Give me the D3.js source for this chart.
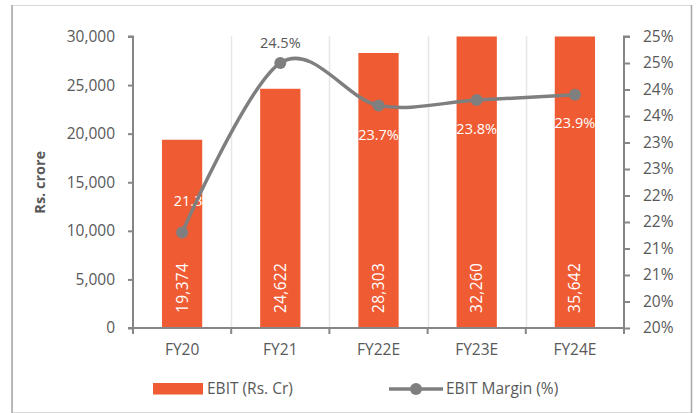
<!DOCTYPE html>
<html>
<head>
<meta charset="utf-8">
<script src="https://cdn.jsdelivr.net/npm/d3@7.9.0/dist/d3.min.js"></script>
<style>
  body { margin: 0; background: #fff; }
  svg { display: block; font-family: 'Open Sans', sans-serif; }
</style>
</head>
<body>
<svg width="696" height="413"></svg>
<script>
const years = ['FY20', 'FY21', 'FY22E', 'FY23E', 'FY24E'];
const ebit = [19374, 24622, 28303, 32260, 35642];
const margin = [21.3, 24.5, 23.7, 23.8, 23.9];
const leftTicks = [0, 5000, 10000, 15000, 20000, 25000, 30000];
const rightTicks = [19.5, 20, 20.5, 21, 21.5, 22, 22.5, 23, 23.5, 24, 24.5, 25];

const svg = d3.select('svg');
const plot = { left: 133, right: 624, top: 36.5, bottom: 328 };
const barColor = '#EF5B33';
const lineColor = '#7F7F7F';
const textColor = '#595959';
const axisColor = '#868686';

// outer frame
svg.append('rect')
    .attr('x', 12.5).attr('y', 5.5)
    .attr('width', 679).attr('height', 407)
    .attr('fill', 'none').attr('stroke', '#d9d9d9');
svg.append('line').attr('x1', 12).attr('x2', 12).attr('y1', 5).attr('y2', 413)
    .attr('stroke', '#a6a6a6').attr('stroke-width', 1.5);
svg.append('line').attr('x1', 691.5).attr('x2', 691.5).attr('y1', 5).attr('y2', 413)
    .attr('stroke', '#a6a6a6').attr('stroke-width', 1.5);

let x = d3.scaleBand()
    .domain(years)
    .range([plot.left, plot.right])
    .paddingInner(0.59)
    .paddingOuter(0.295);

let band = d3.scaleBand().domain(years).range([plot.left, plot.right]);

let yL = d3.scaleLinear().domain([0, 30000]).range([plot.bottom, plot.top]);
let yR = d3.scaleLinear().domain([19.5, 25]).range([plot.bottom, plot.top]);

// vertical gridlines at category boundaries
svg.append('g')
    .selectAll('line')
    .data(years.slice(1))
    .join('line')
    .attr('x1', (d) => Math.round(band(d)) + 0.5)
    .attr('x2', (d) => Math.round(band(d)) + 0.5)
    .attr('y1', plot.top)
    .attr('y2', plot.bottom)
    .attr('stroke', '#e6e6e6')
    .attr('stroke-width', 1.5);

svg.append('clipPath').attr('id', 'clip')
    .append('rect')
    .attr('x', plot.left).attr('y', plot.top)
    .attr('width', plot.right - plot.left)
    .attr('height', plot.bottom - plot.top);

// bars
svg.append('g')
    .attr('clip-path', 'url(#clip)')
    .selectAll('rect')
    .data(ebit)
    .join('rect')
    .attr('x', (d, i) => x(years[i]))
    .attr('width', x.bandwidth())
    .attr('y', (d) => yL(d))
    .attr('height', (d) => yL(0) - yL(d))
    .attr('fill', barColor);

// bar value labels (rotated, inside base)
let fmt = d3.format(',');
svg.append('g')
    .selectAll('text')
    .data(ebit)
    .join('text')
    .attr('transform', (d, i) => `translate(${x(years[i]) + x.bandwidth() / 2 + 5.5},${plot.bottom - 15}) rotate(-90)`)
    .attr('fill', '#fff')
    .attr('font-size', '15.5px')
    .attr('letter-spacing', '0.3px')
    .text((d) => fmt(d));

// left axis
let axisL = d3.axisLeft(yL)
    .tickValues(leftTicks)
    .tickSize(5)
    .tickPadding(13)
    .tickFormat(d3.format(','));
let gL = svg.append('g')
    .attr('transform', `translate(${plot.left},0)`)
    .call(axisL);

// right axis
let axisR = d3.axisRight(yR)
    .tickValues(rightTicks)
    .tickSize(6)
    .tickPadding(13)
    .tickFormat((d) => Math.round(d) + '%');
let gR = svg.append('g')
    .attr('transform', `translate(${plot.right},0)`)
    .call(axisR);

// bottom axis
let axisB = d3.axisBottom(band)
    .tickSize(0)
    .tickPadding(16);
let gB = svg.append('g')
    .attr('transform', `translate(0,${plot.bottom})`)
    .call(axisB);

svg.append('g')
    .selectAll('line')
    .data(years)
    .join('line')
    .attr('x1', (d) => band(d))
    .attr('x2', (d) => band(d))
    .attr('y1', plot.bottom)
    .attr('y2', plot.bottom + 6)
    .attr('stroke', axisColor)
    .attr('stroke-width', 2);

[gL, gR, gB].forEach((g) => {
    g.select('.domain').attr('stroke', axisColor).attr('stroke-width', 2);
    g.selectAll('.tick line').attr('stroke', axisColor).attr('stroke-width', 2);
    g.selectAll('.tick text')
        .attr('fill', textColor)
        .attr('font-size', '15.5px')
        .attr('font-family', "'Open Sans', sans-serif");
});
gL.select('.domain').attr('d', `M-5,${plot.top}H0V${plot.bottom}H-5`);
gR.select('.domain').attr('d', `M6,${plot.top}H0V${plot.bottom + 6}`);
gB.select('.domain').attr('d', `M${plot.left},0H${plot.right}`);

// axis title
svg.append('text')
    .attr('transform', `translate(45,${(plot.top + plot.bottom) / 2}) rotate(-90)`)
    .attr('text-anchor', 'middle')
    .attr('font-weight', 'bold')
    .attr('font-size', '14.5px')
    .attr('fill', textColor)
    .text('Rs. crore');

// margin labels (drawn under the line)
let labelOffset = [[12, -32], [0, -20], [0, 30], [0, 29], [0, 28]];
svg.append('g')
    .selectAll('text')
    .data(margin)
    .join('text')
    .attr('x', (d, i) => band(years[i]) + band.bandwidth() / 2 + labelOffset[i][0])
    .attr('y', (d, i) => yR(d) + labelOffset[i][1])
    .attr('dy', '0.35em')
    .attr('text-anchor', 'middle')
    .attr('font-size', '14.5px')
    .attr('fill', (d, i) => (i === 1 ? textColor : '#fff'))
    .text((d) => d.toFixed(1) + '%');

// margin line
let line = d3.line()
    .x((d, i) => band(years[i]) + band.bandwidth() / 2)
    .y((d) => yR(d))
    .curve(d3.curveCardinal.tension(0));

svg.append('path')
    .datum(margin)
    .attr('d', line)
    .attr('fill', 'none')
    .attr('stroke', lineColor)
    .attr('stroke-width', 3.5);

svg.append('g')
    .selectAll('circle')
    .data(margin)
    .join('circle')
    .attr('cx', (d, i) => band(years[i]) + band.bandwidth() / 2)
    .attr('cy', (d) => yR(d))
    .attr('r', 6)
    .attr('fill', lineColor);

// legend
let legend = svg.append('g');
legend.append('rect')
    .attr('x', 153).attr('y', 383)
    .attr('width', 50).attr('height', 11.5)
    .attr('fill', barColor);
legend.append('text')
    .attr('x', 207).attr('y', 389).attr('dy', '0.35em')
    .attr('font-size', '15.5px').attr('fill', textColor)
    .text('EBIT (Rs. Cr)');
legend.append('line')
    .attr('x1', 389).attr('x2', 443).attr('y1', 389).attr('y2', 389)
    .attr('stroke', lineColor).attr('stroke-width', 3.5);
legend.append('circle')
    .attr('cx', 416).attr('cy', 389).attr('r', 6)
    .attr('fill', lineColor);
legend.append('text')
    .attr('x', 446).attr('y', 389).attr('dy', '0.35em')
    .attr('font-size', '15.5px').attr('fill', textColor)
    .text('EBIT Margin (%)');
</script>
</body>
</html>
